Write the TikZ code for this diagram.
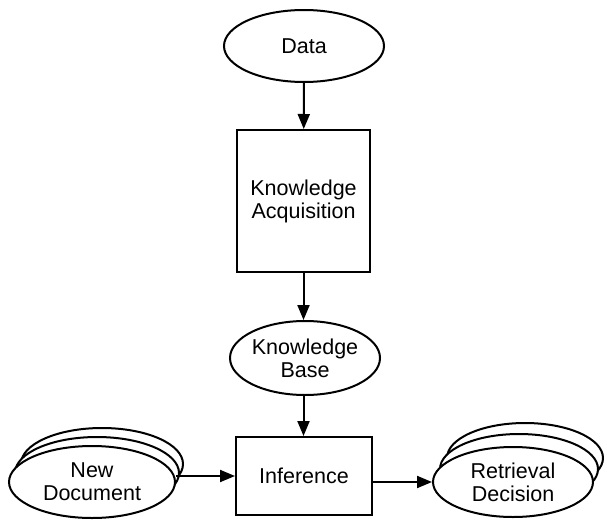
\documentclass[tikz,border=0pt]{standalone}
\usepackage{fontspec}
\setmainfont{Liberation Sans}
\usetikzlibrary{shapes.geometric,arrows.meta}
\begin{document}
\begin{tikzpicture}[x=1pt,y=-1pt,
  every node/.style={font=\fontsize{21.5}{23}\selectfont, align=center, line width=2pt, inner sep=0pt},
  oval/.style={draw, ellipse, fill=white, inner sep=-15pt},
  procbox/.style={draw, rectangle, fill=white},
  conn/.style={line width=2pt, -{Triangle[length=15pt,width=12pt]}}]
\useasboundingbox (0,0) rectangle (607,519);
\node[oval, minimum width=160, minimum height=72] (data) at (304,46) {Data};
\node[procbox, minimum width=133, minimum height=142] (ka) at (303.5,201) {Knowledge\\Acquisition};
\node[oval, minimum width=150, minimum height=74] (kb) at (305,358) {Knowledge\\Base};
\node[procbox, minimum width=136, minimum height=78] (inf) at (304,476) {Inference};
% New Document stack
\node[oval, minimum width=162, minimum height=72] (nd3) at (102,464) {};
\node[oval, minimum width=164, minimum height=72] (nd2) at (97,473) {};
\node[oval, minimum width=166, minimum height=72] (nd) at (92,482) {New\\Document};
% Retrieval Decision stack
\node[oval, minimum width=156, minimum height=70] (rd3) at (525,458) {};
\node[oval, minimum width=158, minimum height=70] (rd2) at (519,469) {};
\node[oval, minimum width=160, minimum height=70] (rd) at (513,482) {Retrieval\\Decision};
\draw[conn] (data) -- (ka);
\draw[conn] (ka) -- (ka |- kb.north);
\draw[conn] (ka |- kb.south) -- (ka |- inf.north);
\draw[conn] (nd.east |- inf) -- (inf);
\draw[conn] (inf.east |- rd.west) -- (rd.west);
\end{tikzpicture}
\end{document}
